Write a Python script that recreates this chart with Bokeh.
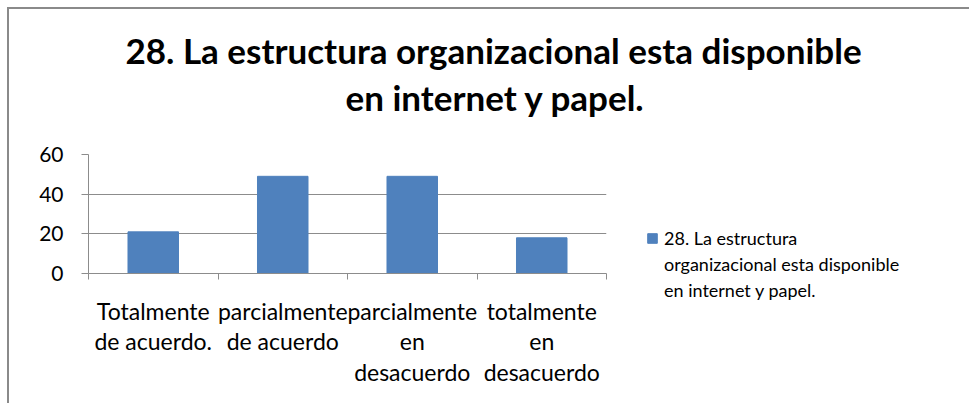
from bokeh.plotting import figure
from bokeh.models import Range1d, FixedTicker, Legend, LegendItem, Title
from bokeh.embed import file_html
from bokeh.resources import INLINE

title_lines = ["28. La estructura organizacional esta disponible", "en internet y papel."]
series_lines = ["28. La estructura", "organizacional esta disponible", "en internet y papel."]
categories = ["Totalmente\nde acuerdo.", "parcialmente\nde acuerdo", "parcialmente\nen\ndesacuerdo", "totalmente\nen\ndesacuerdo"]
values = [21, 49, 49, 18]
y_ticks = [0, 20, 40, 60]

FONT = "Lato"
GRID = "#8c8c8c"
BAR = "#4f81bd"

n = len(categories)
centers = [i + 0.5 for i in range(n)]
bounds = [i for i in range(n + 1)]

p = figure(frame_width=518, frame_height=119, output_backend="svg", toolbar_location=None,
           x_range=Range1d(0, n), y_range=Range1d(0, 60),
           min_border_left=79, min_border_right=356, min_border_top=145, min_border_bottom=130)
p.margin = (7, 0, 0, 7)
p.styles = {"border-left": "2px solid #8a8a8a", "border-top": "2px solid #8a8a8a"}
p.outline_line_color = None
p.background_fill_color = "white"

r = p.vbar(x=centers, top=values, width=0.39, fill_color=BAR, line_color=BAR)
blank = p.vbar(x=[], top=[], width=0.39, fill_alpha=0, line_alpha=0)

p.xaxis.ticker = FixedTicker(ticks=centers, minor_ticks=bounds)
p.xaxis.major_label_overrides = {c: lab for c, lab in zip(centers, categories)}
p.xaxis.major_tick_line_color = None
p.xaxis.minor_tick_in = 0
p.xaxis.minor_tick_out = 6
p.xaxis.minor_tick_line_color = GRID
p.xaxis.axis_line_color = GRID
p.xaxis.major_label_text_font = FONT
p.xaxis.major_label_text_font_size = "23px"
p.xaxis.major_label_text_color = "black"
p.xaxis.major_label_text_line_height = 1.1
p.xaxis.major_label_standoff = 17

p.yaxis.ticker = FixedTicker(ticks=y_ticks)
p.yaxis.minor_tick_line_color = None
p.yaxis.major_tick_in = 0
p.yaxis.major_tick_out = 7
p.yaxis.major_tick_line_color = GRID
p.yaxis.axis_line_color = GRID
p.yaxis.major_label_text_font = FONT
p.yaxis.major_label_text_font_size = "21px"
p.yaxis.major_label_text_color = "black"
p.yaxis.major_label_standoff = 18

p.xgrid.grid_line_color = None
p.ygrid.ticker = FixedTicker(ticks=y_ticks)
p.ygrid.grid_line_color = GRID
p.ygrid.grid_line_width = 1

p.title = None
# spacer between title and plot area
p.add_layout(Title(text=" ", text_font_size="30px", standoff=0), "above")
p.add_layout(Title(text=title_lines[1], align="left", offset=257, text_font=FONT,
                   text_font_size="35px", text_font_style="bold", text_color="black",
                   standoff=4), "above")
p.add_layout(Title(text=title_lines[0], align="left", offset=37, text_font=FONT,
                   text_font_size="35px", text_font_style="bold", text_color="black",
                   standoff=2), "above")

items = [LegendItem(label=series_lines[0], renderers=[r])]
items += [LegendItem(label=t, renderers=[blank]) for t in series_lines[1:]]
legend = Legend(items=items, location=(40, -30),
                label_text_font=FONT, label_text_font_size="18px", label_text_color="black",
                label_height=26, padding=0, margin=0, spacing=0,
                glyph_width=12, glyph_height=12, border_line_color=None,
                background_fill_alpha=0, label_standoff=6)
p.add_layout(legend, "right")

open("out.html", "w").write(file_html(p, INLINE))
